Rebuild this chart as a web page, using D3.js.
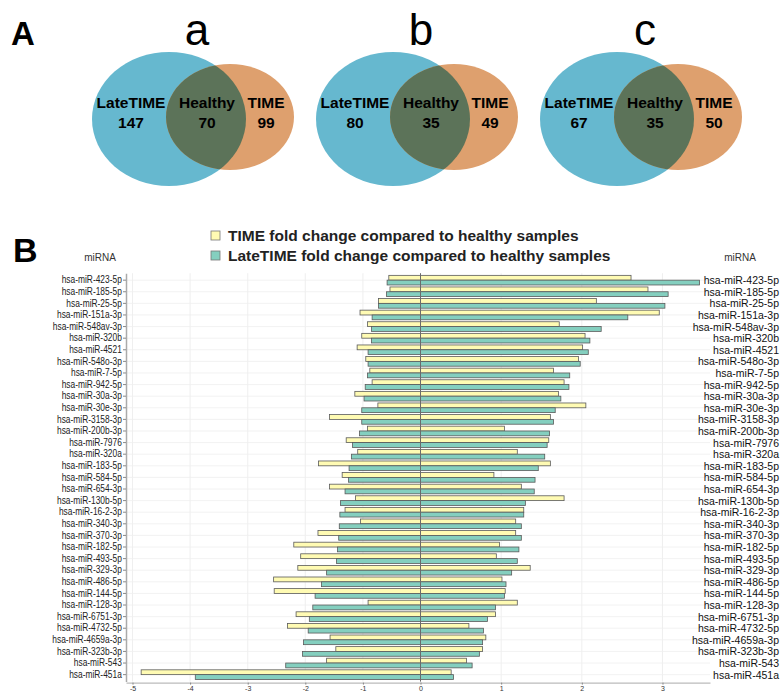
<!DOCTYPE html>
<html>
<head>
<meta charset="utf-8">
<script src="https://cdn.jsdelivr.net/npm/d3@7"></script>
<style>
  body { margin: 0; background: #fff; }
  svg { display: block; }
</style>
</head>
<body>
<div id="chart-area"></div>
<script>
// Venn panels (A)
var vennTitles = ["a", "b", "c"];
var lateOnly = [147, 80, 67];
var shared = [70, 35, 35];
var timeOnly = [99, 49, 50];

// bar chart (B)
var mirnas = ["hsa-miR-423-5p", "hsa-miR-185-5p", "hsa-miR-25-5p", "hsa-miR-151a-3p", "hsa-miR-548av-3p",
  "hsa-miR-320b", "hsa-miR-4521", "hsa-miR-548o-3p", "hsa-miR-7-5p", "hsa-miR-942-5p", "hsa-miR-30a-3p",
  "hsa-miR-30e-3p", "hsa-miR-3158-3p", "hsa-miR-200b-3p", "hsa-miR-7976", "hsa-miR-320a", "hsa-miR-183-5p",
  "hsa-miR-584-5p", "hsa-miR-654-3p", "hsa-miR-130b-5p", "hsa-miR-16-2-3p", "hsa-miR-340-3p", "hsa-miR-370-3p",
  "hsa-miR-182-5p", "hsa-miR-493-5p", "hsa-miR-329-3p", "hsa-miR-486-5p", "hsa-miR-144-5p", "hsa-miR-128-3p",
  "hsa-miR-6751-3p", "hsa-miR-4732-5p", "hsa-miR-4659a-3p", "hsa-miR-323b-3p", "hsa-miR-543", "hsa-miR-451a"];

var timeUp = [2.61, 2.82, 2.18, 2.96, 1.72, 2.04, 2.01, 1.96, 1.65, 1.78, 1.71, 2.05, 1.61, 1.04, 1.59, 1.20, 1.61,
  0.91, 1.25, 1.78, 1.28, 1.18, 1.18, 0.98, 0.94, 1.36, 1.01, 1.05, 1.20, 0.93, 0.60, 0.81, 0.77, 0.57, 0.38];
var timeDown = [-0.55, -0.53, -0.73, -1.05, -0.92, -1.02, -1.10, -0.95, -0.88, -0.84, -1.14, -0.74, -1.58, -0.92,
  -1.29, -1.09, -1.77, -1.36, -1.58, -1.13, -1.31, -1.04, -1.78, -2.20, -2.08, -2.13, -2.55, -2.54, -0.91, -2.16,
  -2.31, -1.57, -1.47, -1.63, -4.85];
var lateUp = [3.46, 3.07, 3.03, 2.57, 2.24, 2.10, 2.08, 1.98, 1.85, 1.84, 1.74, 1.67, 1.65, 1.60, 1.57, 1.54, 1.46,
  1.42, 1.41, 1.30, 1.28, 1.25, 1.25, 1.22, 1.20, 1.13, 1.06, 1.04, 0.93, 0.83, 0.78, 0.77, 0.73, 0.64, 0.41];
var lateDown = [-0.58, -0.59, -0.73, -0.84, -0.85, -0.85, -0.91, -0.91, -0.92, -0.96, -0.98, -1.02, -1.02, -1.06,
  -1.18, -1.20, -1.24, -1.25, -1.31, -1.39, -1.40, -1.41, -1.42, -1.44, -1.46, -1.63, -1.72, -1.83, -1.87, -1.93,
  -1.95, -2.03, -2.05, -2.34, -3.91];

var seriesNames = ["TIME", "LateTIME"];
var legendLabels = ["TIME fold change compared to healthy samples", "LateTIME fold change compared to healthy samples"];
var xTicks = [-5, -4, -3, -2, -1, 0, 1, 2, 3];

var svg = d3.select("#chart-area")
  .append("svg")
    .attr("width", 781)
    .attr("height", 692);

/* ---------- A : venn diagrams ---------- */
svg.append("text")
  .attr("x", 11).attr("y", 45)
  .attr("font-family", "Liberation Sans, Arial, sans-serif")
  .attr("font-weight", "bold")
  .attr("font-size", 33)
  .text("A");

var defs = svg.append("defs");
var vennStep = 224;

vennTitles.forEach(function(t, i) {
  var dx = i * vennStep;
  var blue = { cx: 169 + dx, cy: 119, rx: 77, ry: 67 };
  var orange = { cx: 230 + dx, cy: 117, rx: 64, ry: 53 };

  defs.append("clipPath").attr("id", "clipBlue" + i)
    .append("ellipse")
      .attr("cx", blue.cx).attr("cy", blue.cy)
      .attr("rx", blue.rx).attr("ry", blue.ry);

  var g = svg.append("g");
  g.append("ellipse")
    .attr("cx", blue.cx).attr("cy", blue.cy)
    .attr("rx", blue.rx).attr("ry", blue.ry)
    .attr("fill", "#66b8cf");
  g.append("ellipse")
    .attr("cx", orange.cx).attr("cy", orange.cy)
    .attr("rx", orange.rx).attr("ry", orange.ry)
    .attr("fill", "#dea06e");
  g.append("ellipse")
    .attr("clip-path", "url(#clipBlue" + i + ")")
    .attr("cx", orange.cx).attr("cy", orange.cy)
    .attr("rx", orange.rx).attr("ry", orange.ry)
    .attr("fill", "#5c7359");

  g.append("text")
    .attr("x", 197 + dx).attr("y", 45)
    .attr("text-anchor", "middle")
    .attr("font-family", "Liberation Sans, Arial, sans-serif")
    .attr("font-size", 44)
    .text(t);

  var labels = [
    { x: 131 + dx, name: "LateTIME", n: lateOnly[i] },
    { x: 207 + dx, name: "Healthy", n: shared[i] },
    { x: 266 + dx, name: "TIME", n: timeOnly[i] }
  ];
  labels.forEach(function(l) {
    g.append("text")
      .attr("x", l.x).attr("y", 108)
      .attr("text-anchor", "middle")
      .attr("font-family", "Liberation Sans, Arial, sans-serif")
      .attr("font-weight", "bold")
      .attr("font-size", 15.5)
      .text(l.name);
    g.append("text")
      .attr("x", l.x).attr("y", 128)
      .attr("text-anchor", "middle")
      .attr("font-family", "Liberation Sans, Arial, sans-serif")
      .attr("font-weight", "bold")
      .attr("font-size", 15.5)
      .text(l.n);
  });
});

/* ---------- B : fold change bars ---------- */
svg.append("text")
  .attr("x", 13).attr("y", 262)
  .attr("font-family", "Liberation Sans, Arial, sans-serif")
  .attr("font-weight", "bold")
  .attr("font-size", 34)
  .text("B");

var color = d3.scaleOrdinal()
  .domain(seriesNames)
  .range(["#fffbb3", "#84cfbf"]);

// legend
legendLabels.forEach(function(lab, i) {
  svg.append("rect")
    .attr("x", 211).attr("y", 231 + i * 20)
    .attr("width", 9).attr("height", 9)
    .attr("fill", color(seriesNames[i]))
    .attr("stroke", "#777").attr("stroke-width", 0.8);
  svg.append("text")
    .attr("x", 228).attr("y", 241 + i * 20)
    .attr("font-family", "Liberation Sans, Arial, sans-serif")
    .attr("font-weight", "bold")
    .attr("font-size", 15.5)
    .attr("fill", "#222")
    .text(lab);
});

var plotLeft = 126, plotRight = 710, plotTop = 273.2, plotBottom = 681.6;

// negative side is drawn compressed in the figure, so a two-piece scale
var x = d3.scaleLinear()
  .domain([-5.113, 0, 3.589])
  .range([plotLeft, 420.5, plotRight]);

var y = d3.scaleBand()
  .domain(mirnas)
  .range([plotTop, plotBottom])
  .paddingInner(0.17)
  .paddingOuter(0.185);

var ySub = d3.scaleBand()
  .domain(seriesNames)
  .range([0, y.bandwidth()]);

var rows = mirnas.map(function(m, i) {
  return [
    { mirna: m, series: "TIME", down: timeDown[i], up: timeUp[i] },
    { mirna: m, series: "LateTIME", down: lateDown[i], up: lateUp[i] }
  ];
});
var bars = [].concat.apply([], rows);

// grid
svg.append("g").selectAll("line")
  .data(xTicks)
  .enter().append("line")
    .attr("x1", function(d) { return x(d); })
    .attr("x2", function(d) { return x(d); })
    .attr("y1", plotTop).attr("y2", plotBottom)
    .attr("stroke", "#ebebeb").attr("stroke-width", 0.8);

svg.append("g").selectAll("line")
  .data(mirnas)
  .enter().append("line")
    .attr("x1", plotLeft).attr("x2", plotRight)
    .attr("y1", function(d) { return y(d) + y.bandwidth() / 2; })
    .attr("y2", function(d) { return y(d) + y.bandwidth() / 2; })
    .attr("stroke", "#efefef").attr("stroke-width", 0.8);

svg.append("g").selectAll("rect")
  .data(bars)
  .enter().append("rect")
    .attr("x", function(d) { return x(d.down); })
    .attr("width", function(d) { return x(d.up) - x(d.down); })
    .attr("y", function(d) { return y(d.mirna) + ySub(d.series); })
    .attr("height", ySub.bandwidth())
    .attr("fill", function(d) { return color(d.series); })
    .attr("stroke", "#5a5a5a")
    .attr("stroke-width", 0.8);

// zero line
svg.append("line")
  .attr("x1", x(0)).attr("x2", x(0))
  .attr("y1", plotTop).attr("y2", plotBottom)
  .attr("stroke", "#6b6b6b").attr("stroke-width", 1);

// left axis
var yAxis = svg.append("g")
  .attr("transform", "translate(" + plotLeft + ",0)")
  .call(d3.axisLeft(y).tickSize(3).tickSizeOuter(0).tickPadding(2));
yAxis.select(".domain").attr("stroke", "#aaa").attr("stroke-width", 1.5);
yAxis.selectAll(".tick line").attr("stroke", "#888");
yAxis.selectAll("text")
  .attr("font-family", "Liberation Sans, Arial, sans-serif")
  .attr("font-size", 10)
  .attr("transform", "scale(0.84,1)")
  .attr("fill", "#222");

// bottom axis
var xAxis = svg.append("g")
  .attr("transform", "translate(0," + (plotBottom + 1) + ")")
  .call(d3.axisBottom(x).tickValues(xTicks).tickSize(2).tickSizeOuter(0).tickPadding(1)
    .tickFormat(function(d) { return String(d); }));
xAxis.select(".domain").attr("stroke", "#aaa").attr("stroke-width", 1);
xAxis.selectAll(".tick line").attr("stroke", "#888");
xAxis.selectAll("text")
  .attr("font-family", "Liberation Sans, Arial, sans-serif")
  .attr("font-size", 7)
  .attr("fill", "#333");

// right labels
svg.append("g").selectAll("text")
  .data(mirnas)
  .enter().append("text")
    .attr("x", 779)
    .attr("y", function(d) { return y(d) + y.bandwidth() / 2 + 4; })
    .attr("text-anchor", "end")
    .attr("font-family", "Liberation Sans, Arial, sans-serif")
    .attr("font-size", 10.5)
    .attr("fill", "#111")
    .text(function(d) { return d; });

// column headers
[100, 740].forEach(function(cx) {
  svg.append("text")
    .attr("x", cx).attr("y", 261)
    .attr("text-anchor", "middle")
    .attr("font-family", "Liberation Sans, Arial, sans-serif")
    .attr("font-size", 10)
    .attr("fill", "#333")
    .text("miRNA");
});
</script>
</body>
</html>
